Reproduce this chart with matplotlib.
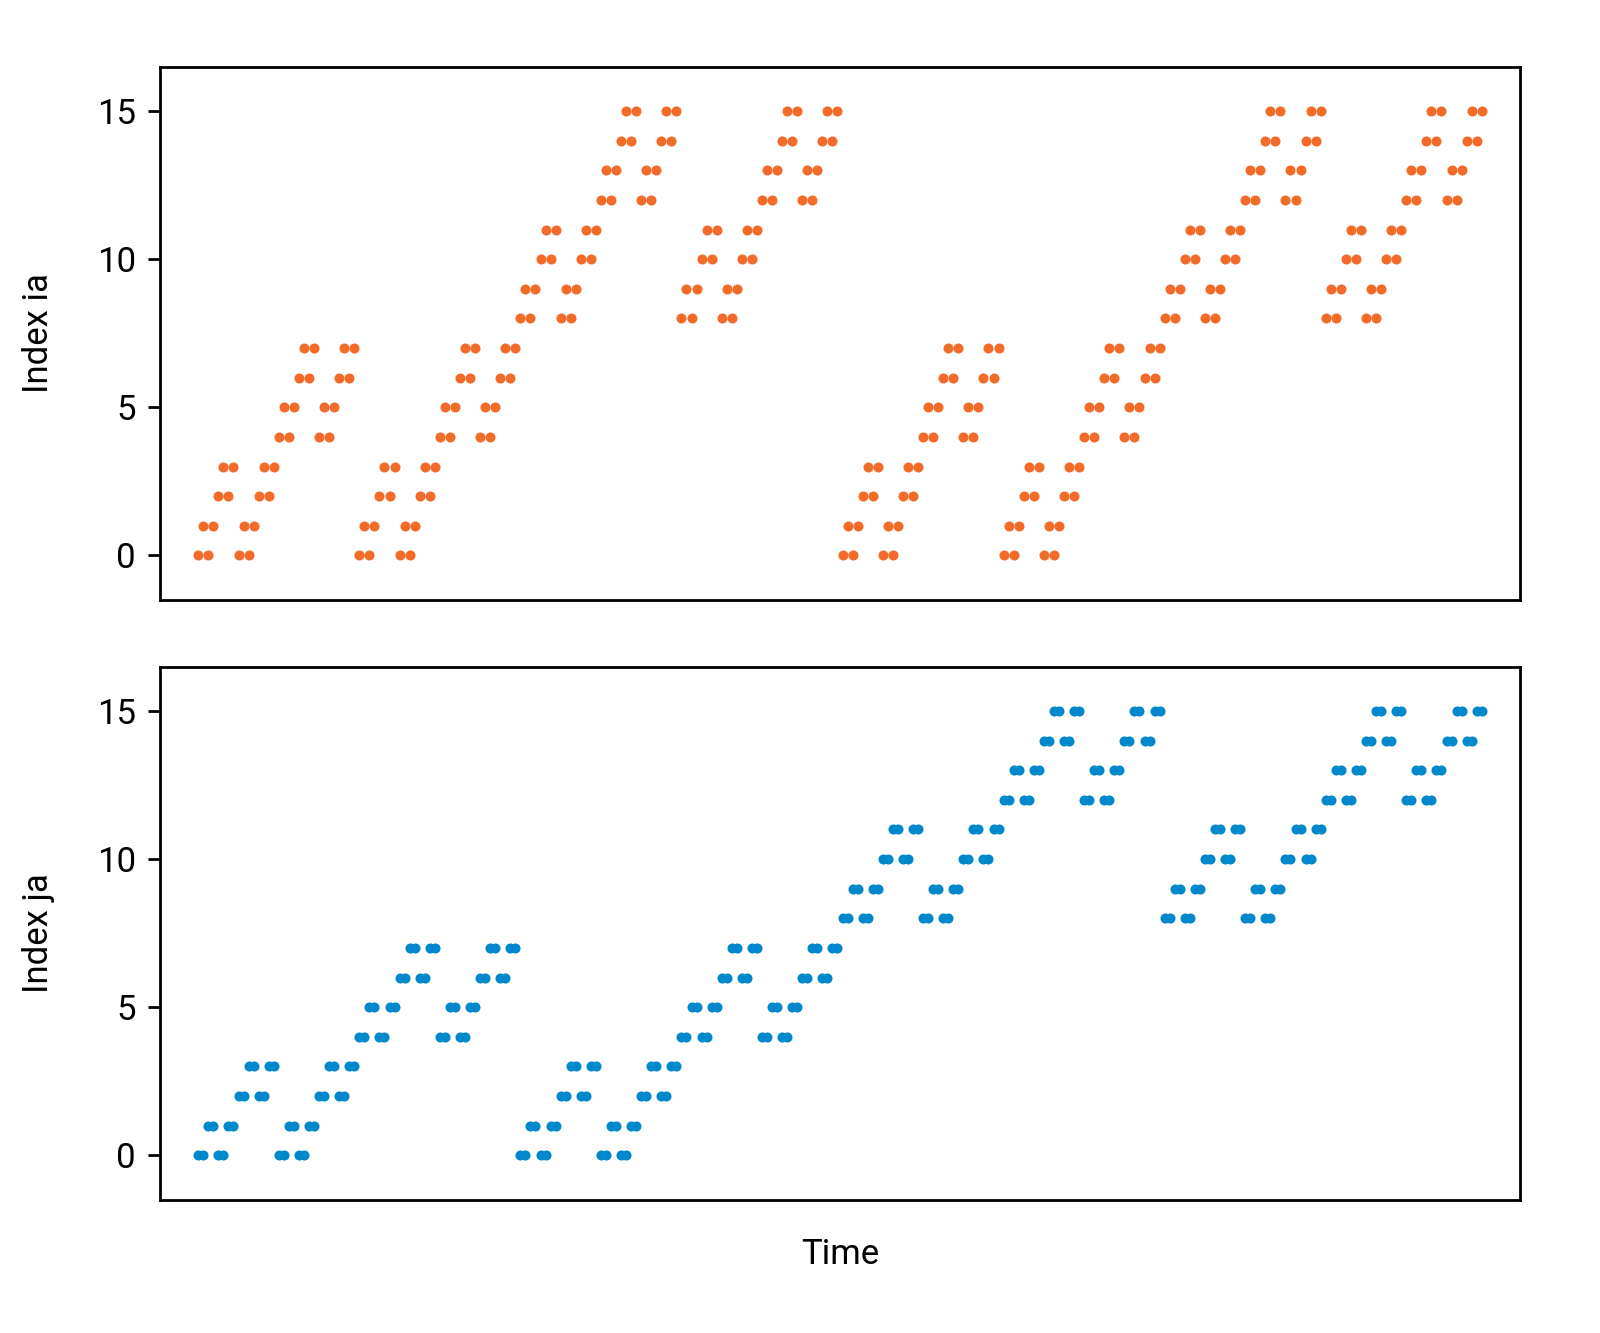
import matplotlib
matplotlib.use('Agg')
import matplotlib.pyplot as plt

plt.rcParams['font.family'] = ['Roboto', 'DejaVu Sans']
plt.rcParams['font.size'] = 10

# index values, one per time step (rows of 16 steps)
index_ia = [
    0, 1, 0, 1, 2, 3, 2, 3, 0, 1, 0, 1, 2, 3, 2, 3,
    4, 5, 4, 5, 6, 7, 6, 7, 4, 5, 4, 5, 6, 7, 6, 7,
    0, 1, 0, 1, 2, 3, 2, 3, 0, 1, 0, 1, 2, 3, 2, 3,
    4, 5, 4, 5, 6, 7, 6, 7, 4, 5, 4, 5, 6, 7, 6, 7,
    8, 9, 8, 9, 10, 11, 10, 11, 8, 9, 8, 9, 10, 11, 10, 11,
    12, 13, 12, 13, 14, 15, 14, 15, 12, 13, 12, 13, 14, 15, 14, 15,
    8, 9, 8, 9, 10, 11, 10, 11, 8, 9, 8, 9, 10, 11, 10, 11,
    12, 13, 12, 13, 14, 15, 14, 15, 12, 13, 12, 13, 14, 15, 14, 15,
    0, 1, 0, 1, 2, 3, 2, 3, 0, 1, 0, 1, 2, 3, 2, 3,
    4, 5, 4, 5, 6, 7, 6, 7, 4, 5, 4, 5, 6, 7, 6, 7,
    0, 1, 0, 1, 2, 3, 2, 3, 0, 1, 0, 1, 2, 3, 2, 3,
    4, 5, 4, 5, 6, 7, 6, 7, 4, 5, 4, 5, 6, 7, 6, 7,
    8, 9, 8, 9, 10, 11, 10, 11, 8, 9, 8, 9, 10, 11, 10, 11,
    12, 13, 12, 13, 14, 15, 14, 15, 12, 13, 12, 13, 14, 15, 14, 15,
    8, 9, 8, 9, 10, 11, 10, 11, 8, 9, 8, 9, 10, 11, 10, 11,
    12, 13, 12, 13, 14, 15, 14, 15, 12, 13, 12, 13, 14, 15, 14, 15,
]

index_ja = [
    0, 0, 1, 1, 0, 0, 1, 1, 2, 2, 3, 3, 2, 2, 3, 3,
    0, 0, 1, 1, 0, 0, 1, 1, 2, 2, 3, 3, 2, 2, 3, 3,
    4, 4, 5, 5, 4, 4, 5, 5, 6, 6, 7, 7, 6, 6, 7, 7,
    4, 4, 5, 5, 4, 4, 5, 5, 6, 6, 7, 7, 6, 6, 7, 7,
    0, 0, 1, 1, 0, 0, 1, 1, 2, 2, 3, 3, 2, 2, 3, 3,
    0, 0, 1, 1, 0, 0, 1, 1, 2, 2, 3, 3, 2, 2, 3, 3,
    4, 4, 5, 5, 4, 4, 5, 5, 6, 6, 7, 7, 6, 6, 7, 7,
    4, 4, 5, 5, 4, 4, 5, 5, 6, 6, 7, 7, 6, 6, 7, 7,
    8, 8, 9, 9, 8, 8, 9, 9, 10, 10, 11, 11, 10, 10, 11, 11,
    8, 8, 9, 9, 8, 8, 9, 9, 10, 10, 11, 11, 10, 10, 11, 11,
    12, 12, 13, 13, 12, 12, 13, 13, 14, 14, 15, 15, 14, 14, 15, 15,
    12, 12, 13, 13, 12, 12, 13, 13, 14, 14, 15, 15, 14, 14, 15, 15,
    8, 8, 9, 9, 8, 8, 9, 9, 10, 10, 11, 11, 10, 10, 11, 11,
    8, 8, 9, 9, 8, 8, 9, 9, 10, 10, 11, 11, 10, 10, 11, 11,
    12, 12, 13, 13, 12, 12, 13, 13, 14, 14, 15, 15, 14, 14, 15, 15,
    12, 12, 13, 13, 12, 12, 13, 13, 14, 14, 15, 15, 14, 14, 15, 15,
]

time = list(range(len(index_ia)))
yticks = [0, 5, 10, 15]

fig, (ax1, ax2) = plt.subplots(2, 1, figsize=(6.4, 5.332), dpi=250)
fig.subplots_adjust(left=0.1, right=0.95, top=0.95, bottom=0.1, hspace=0.125)

ax1.plot(time, index_ia, 'o', ms=2.9, mew=0, color='#f26b29')
ax2.plot(time, index_ja, 'o', ms=2.9, mew=0, color='#0088cc')

for ax, lab in [(ax1, 'Index ia'), (ax2, 'Index ja')]:
    ax.set_xlim(-7.6, 262.6)
    ax.set_ylim(-1.5, 16.5)
    ax.set_yticks(yticks)
    ax.set_xticks([])
    # labels sit further out than the default in the original
    ax.set_ylabel(lab, labelpad=12)

ax2.set_xlabel('Time', labelpad=11)

fig.savefig('out.png', dpi=250)
